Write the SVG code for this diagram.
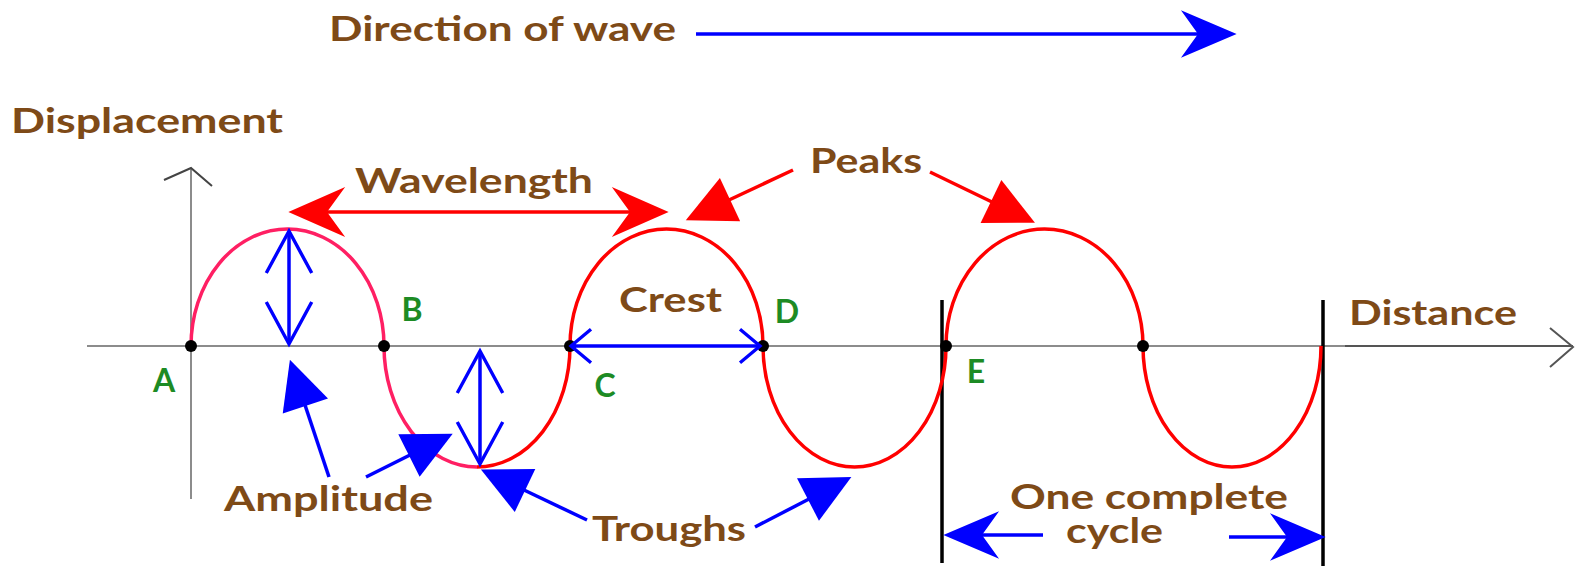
<svg xmlns="http://www.w3.org/2000/svg" width="1579" height="566" viewBox="0 0 1579 566">
<style>
.lbl{font-family:Lato,"Open Sans","Liberation Sans",sans-serif;font-weight:bold;font-size:34px;fill:#7E4A17}
.pt{font-family:Lato,"Open Sans","Liberation Sans",sans-serif;font-weight:bold;font-size:32px;fill:#1D8B24;text-anchor:middle}
.axis{stroke:#8c8c8c;stroke-width:2;fill:none}
.blue{stroke:#0000FF;stroke-width:3.5;fill:none}
.red{stroke:#FF0000;stroke-width:3.5;fill:none}
.wave{stroke:#FF0000;stroke-width:3.5;fill:none}
.cut{stroke:#000;stroke-width:3.5}
</style>
<defs>
<marker id="stB" markerUnits="userSpaceOnUse" orient="auto-start-reverse" refX="0" refY="0" markerWidth="60" markerHeight="50" viewBox="-16 -22 52 44" overflow="visible"><path d="M-15,-21 L34,0 L-15,21 L0,0 Z" fill="#0000FF"/></marker>
<marker id="stR" markerUnits="userSpaceOnUse" orient="auto-start-reverse" refX="0" refY="0" markerWidth="60" markerHeight="50" viewBox="-16 -22 52 44" overflow="visible"><path d="M-16,-22 L34,0 L-16,22 L0,0 Z" fill="#FF0000"/></marker>
<marker id="trB" markerUnits="userSpaceOnUse" orient="auto" refX="0" refY="0" markerWidth="50" markerHeight="50" viewBox="0 -22 44 44" overflow="visible"><path d="M-1,-21 L42,0 L-1,21 Z" fill="#0000FF"/></marker>
<marker id="trR" markerUnits="userSpaceOnUse" orient="auto" refX="0" refY="0" markerWidth="50" markerHeight="50" viewBox="0 -22 44 44" overflow="visible"><path d="M-1,-21 L42,0 L-1,21 Z" fill="#FF0000"/></marker>
<marker id="opL" markerUnits="userSpaceOnUse" orient="auto-start-reverse" refX="0" refY="0" markerWidth="50" markerHeight="50" viewBox="-40 -22 44 44" overflow="visible"><path d="M-37,-20 L0,0 L-37,20" fill="none" stroke="#0000FF" stroke-width="3"/></marker>
<marker id="opS" markerUnits="userSpaceOnUse" orient="auto-start-reverse" refX="0" refY="0" markerWidth="30" markerHeight="40" viewBox="-22 -18 24 36" overflow="visible"><path d="M-18,-15 L0,0 L-18,15" fill="none" stroke="#0000FF" stroke-width="3"/></marker>
</defs>

<g id="axes">
<line class="axis" x1="87" y1="346" x2="1345" y2="346"/>
<line x1="1345" y1="346" x2="1573" y2="346" stroke="#555" stroke-width="2"/>
<path d="M1550,328 L1573,347 L1550,367" fill="none" stroke="#555" stroke-width="2"/>
<line class="axis" x1="191" y1="168" x2="191" y2="499"/>
<path d="M164,180 L191,168 L212,186" fill="none" stroke="#444" stroke-width="2"/>
</g>

<g id="cycle-bounds">
<line class="cut" x1="942" y1="300" x2="942" y2="563"/>
<line class="cut" x1="1323" y1="300" x2="1323" y2="566"/>
</g>

<g id="wave">
<path d="M191,346 A96.5,117 0 0 1 384,346 A93,121 0 0 0 477,467" fill="none" stroke="#FF1F63" stroke-width="3.5"/>
<path class="wave" d="M477,467 A93,121 0 0 0 570,346 A96.5,117 0 0 1 763,346 A91.5,121 0 0 0 946,346 A98.5,117 0 0 1 1143,346 A89,121 0 0 0 1321,346"/>
</g>

<g id="points">
<circle cx="191" cy="346" r="6"/>
<circle cx="384" cy="346" r="6"/>
<circle cx="570" cy="346" r="6"/>
<circle cx="763" cy="346" r="6"/>
<circle cx="946" cy="346" r="6"/>
<circle cx="1143" cy="346" r="6"/>
<text class="pt" x="164" y="392">A</text>
<text class="pt" x="412" y="321">B</text>
<text class="pt" x="605" y="397">C</text>
<text class="pt" x="787" y="323">D</text>
<text class="pt" x="976" y="383">E</text>
</g>

<g id="connectors">
<line class="blue" x1="696" y1="34" x2="1198" y2="34" marker-end="url(#stB)"/>
<line class="red" x1="327" y1="212" x2="630" y2="212" marker-start="url(#stR)" marker-end="url(#stR)"/>
<line class="red" x1="793" y1="170" x2="729" y2="200" marker-end="url(#trR)"/>
<line class="red" x1="930" y1="172" x2="992" y2="202" marker-end="url(#trR)"/>
<line class="blue" x1="329" y1="477" x2="305" y2="405" marker-end="url(#trB)"/>
<line class="blue" x1="366" y1="477" x2="410" y2="455" marker-end="url(#trB)"/>
<line class="blue" x1="587" y1="520" x2="524" y2="490" marker-end="url(#trB)"/>
<line class="blue" x1="755" y1="527" x2="809" y2="499" marker-end="url(#trB)"/>
<line class="blue" x1="1043" y1="535" x2="982" y2="535" marker-end="url(#stB)"/>
<line class="blue" x1="1229" y1="537" x2="1287" y2="537" marker-end="url(#stB)"/>
<line class="blue" x1="289" y1="231" x2="289" y2="344" stroke-width="3" marker-start="url(#opL)" marker-end="url(#opL)"/>
<line class="blue" x1="480" y1="351" x2="480" y2="464" stroke-width="3" marker-start="url(#opL)" marker-end="url(#opL)"/>
<line class="blue" x1="571" y1="346" x2="760" y2="346" marker-start="url(#opS)" marker-end="url(#opS)"/>
</g>

<g id="labels">
<text class="lbl" x="329" y="41" textLength="347" lengthAdjust="spacingAndGlyphs">Direction of wave</text>
<text class="lbl" x="11" y="133" textLength="272" lengthAdjust="spacingAndGlyphs">Displacement</text>
<text class="lbl" x="355" y="193" textLength="238" lengthAdjust="spacingAndGlyphs">Wavelength</text>
<text class="lbl" x="810" y="173" textLength="112" lengthAdjust="spacingAndGlyphs">Peaks</text>
<text class="lbl" x="619" y="312" textLength="103" lengthAdjust="spacingAndGlyphs">Crest</text>
<text class="lbl" x="1349" y="325" textLength="168" lengthAdjust="spacingAndGlyphs">Distance</text>
<text class="lbl" x="224" y="511" textLength="209" lengthAdjust="spacingAndGlyphs">Amplitude</text>
<text class="lbl" x="592" y="541" textLength="154" lengthAdjust="spacingAndGlyphs">Troughs</text>
<text class="lbl" x="1010" y="509" textLength="278" lengthAdjust="spacingAndGlyphs">One complete</text>
<text class="lbl" x="1066" y="543" textLength="97" lengthAdjust="spacingAndGlyphs">cycle</text>
</g>
</svg>
